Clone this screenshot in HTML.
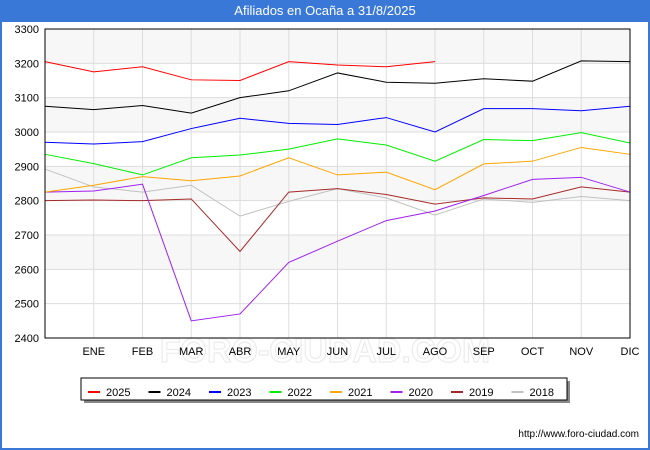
<!DOCTYPE html><html><head><style>body{margin:0;}*{font-family:"Liberation Sans",sans-serif;}</style></head><body>
<div style="width:650px;height:450px;position:relative;background:#fff;box-sizing:border-box;border:2px solid #3a78d8;border-top:none;">
<div style="position:absolute;left:-2px;top:0;width:650px;height:22px;background:#3a78d8;color:#fff;font-size:13px;text-align:center;line-height:22px;">Afiliados en Ocaña a 31/8/2025</div>
</div>
<svg width="650" height="450" style="position:absolute;left:0;top:0" font-size="11">
<g fill="#f7f7f7"><rect x="45" y="29" width="585" height="34.3"/><rect x="45" y="97.7" width="585" height="34.3"/><rect x="45" y="166.3" width="585" height="34.3"/><rect x="45" y="235" width="585" height="34.3"/></g>
<text x="325" y="362" font-size="34" fill="none" stroke="#ececec" stroke-width="1.2" text-anchor="middle" font-weight="bold">FORO-CIUDAD.COM</text>
<g stroke="#ddd" id="g"></g>
<g id="t" fill="#000"></g>
<g id="s" fill="none" stroke-width="1"></g>
<rect x="45" y="29" width="585" height="309" fill="none" stroke="#000"/>
<rect x="84" y="381" width="486" height="22" fill="#888"/>
<rect x="81" y="378" width="486" height="22" fill="#fff" stroke="#000"/>
<g id="l" font-size="11"></g>
<text x="639" y="437" text-anchor="end" font-size="10">http://www.foro-ciudad.com</text>
</svg>
<script>
const ns="http://www.w3.org/2000/svg";function el(p,t,a,tx){const e=document.createElementNS(ns,t);for(const k in a)e.setAttribute(k,a[k]);if(tx)e.textContent=tx;document.getElementById(p).appendChild(e);}
const X=i=>45+i*48.75,Y=v=>338-(v-2400)*309/900;
const M=["ENE","FEB","MAR","ABR","MAY","JUN","JUL","AGO","SEP","OCT","NOV","DIC"];
for(let v=2400;v<=3300;v+=100){el("g","line",{x1:45,x2:630,y1:Y(v),y2:Y(v)});el("t","text",{x:39,y:Y(v)+4,"text-anchor":"end"},v);}
M.forEach((m,i)=>{el("g","line",{x1:X(i+1),x2:X(i+1),y1:29,y2:338});el("t","text",{x:X(i+1),y:355,"text-anchor":"middle"},m);});
const S=[["2025","#ff0000",[3205,3175,3190,3152,3150,3205,3195,3190,3205]],
["2024","#000",[3075,3065,3077,3055,3100,3120,3172,3145,3142,3155,3148,3207,3205]],
["2023","#0000ff",[2970,2965,2972,3010,3040,3025,3022,3042,3000,3068,3068,3062,3075]],
["2022","#00ee00",[2935,2908,2875,2925,2933,2950,2980,2962,2915,2978,2975,2998,2968]],
["2021","#ffa500",[2825,2845,2870,2858,2872,2925,2875,2883,2832,2907,2915,2955,2935]],
["2020","#a020f0",[2825,2828,2848,2450,2470,2620,2682,2742,2770,2815,2862,2868,2825]],
["2019","#a52a2a",[2800,2802,2800,2805,2652,2825,2835,2818,2790,2808,2805,2840,2825]],
["2018","#c0c0c0",[2892,2840,2825,2845,2755,2798,2835,2808,2758,2805,2795,2812,2800]]];
S.slice().reverse().forEach(s=>el("s","polyline",{stroke:s[1],points:s[2].map((v,i)=>X(i)+","+Y(v)).join(" ")}));
S.forEach((s,i)=>{const x=88+i*60.5;el("l","line",{x1:x,x2:x+12,y1:392,y2:392,stroke:s[1],"stroke-width":2});el("l","text",{x:x+18,y:396},s[0]);});
</script>
</body></html>
